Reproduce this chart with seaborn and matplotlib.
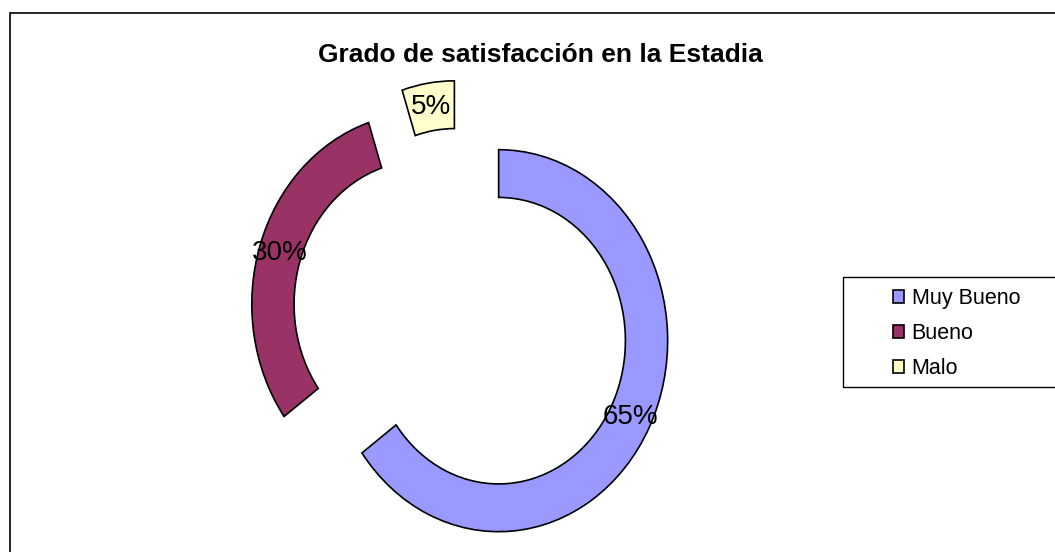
import matplotlib
matplotlib.use("Agg")
import matplotlib.pyplot as plt
import matplotlib.patches as mpatches
import seaborn as sns

# datos del gráfico
categorias = ["Muy Bueno", "Bueno", "Malo"]
porcentajes = [65, 30, 5]
colores = ["#9999FF", "#993366", "#FFFFCC"]
titulo = "Grado de satisfacción en la Estadia"

sns.set_theme(style="white")
plt.rcParams["font.family"] = ["Liberation Sans", "DejaVu Sans"]
plt.rcParams["text.color"] = "black"

fig = plt.figure(figsize=(10.55, 5.52), dpi=100)
ax = fig.add_axes([0, 0, 1, 1])

paleta = sns.color_palette(colores)
wedges, textos, autotextos = ax.pie(
    porcentajes,
    colors=paleta,
    startangle=90,
    counterclock=False,
    explode=[0.25, 0.25, 0.25],
    radius=1,
    pctdistance=0.875,
    autopct="%1.0f%%",
    wedgeprops=dict(width=0.25, edgecolor="black", linewidth=1.2),
    textprops=dict(fontsize=20, color="black"),
)

# el donut original es algo ovalado (más alto que ancho)
sx, sy = 169.0, 191.0
cx, cy = 461.0, 552 - 319.0
ax.set_aspect("auto")
ax.set_xlim(-cx / sx, (1055 - cx) / sx)
ax.set_ylim(-cy / sy, (552 - cy) / sy)
ax.axis("off")

fig.text(540 / 1055, 1 - 55 / 552, titulo, ha="center", va="center",
         fontsize=19, fontweight="bold", color="black")

# marco del área del gráfico
fig.add_artist(mpatches.Rectangle((10 / 1055, -0.05), 1.2, 1 - 13 / 552 + 0.05,
                                  transform=fig.transFigure, fill=False,
                                  edgecolor="black", linewidth=1.2, clip_on=False))

# caja de la leyenda
fig.add_artist(mpatches.Rectangle((843 / 1055, 1 - 387 / 552), 0.3, 110 / 552,
                                  transform=fig.transFigure, fill=False,
                                  edgecolor="black", linewidth=1.0, clip_on=False))
fig.legend(wedges, categorias, loc="upper left",
           bbox_to_anchor=(876 / 1055, 1 - 271 / 552),
           frameon=False, fontsize=15.5, handlelength=0.5, handleheight=0.5,
           handletextpad=0.35, labelspacing=0.65, borderpad=0.3,
           labelcolor="black")

fig.savefig("out.png", dpi=100, facecolor="white")
